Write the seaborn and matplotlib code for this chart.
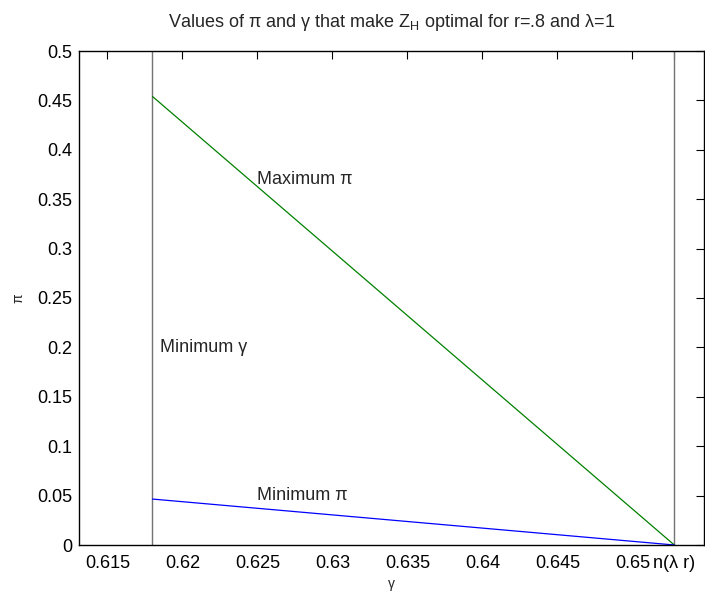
import numpy as np
import pandas as pd
import matplotlib
matplotlib.use("Agg")
import matplotlib.pyplot as plt
import seaborn as sns

# ---- data ----
gamma_min = 0.6180      # Minimum gamma (left vertical line)
gamma_n = 0.6528        # n(lambda r) (right vertical line)
max_pi_gamma = [0.6180, 0.6528]
max_pi_vals = [0.454, 0.0]
min_pi_gamma = [0.6180, 0.6528]
min_pi_vals = [0.0465, 0.0]

x_ticks = [0.615, 0.62, 0.625, 0.63, 0.635, 0.64, 0.645, 0.65]
x_tick_labels = ["0.615", "0.62", "0.625", "0.63", "0.635", "0.64", "0.645", "0.65"]
y_ticks = [0, 0.05, 0.1, 0.15, 0.2, 0.25, 0.3, 0.35, 0.4, 0.45, 0.5]
y_tick_labels = ["0", "0.05", "0.1", "0.15", "0.2", "0.25", "0.3", "0.35", "0.4", "0.45", "0.5"]

sns.set_theme(style="white")
plt.rcParams["font.family"] = ["Liberation Sans", "DejaVu Sans"]
plt.rcParams["mathtext.fontset"] = "custom"
plt.rcParams["mathtext.rm"] = "Liberation Sans"
plt.rcParams["mathtext.it"] = "Liberation Sans:italic"

fig = plt.figure(figsize=(7.05, 5.91), dpi=100)
ax = fig.add_axes([79 / 705, 1 - 545 / 591, (705 - 79) / 705 - 0.001, (545 - 51) / 591])

df_max = pd.DataFrame({"gamma": max_pi_gamma, "pi": max_pi_vals})
df_min = pd.DataFrame({"gamma": min_pi_gamma, "pi": min_pi_vals})

ax.axvline(gamma_min, color="0.45", lw=1.0, zorder=1)
ax.axvline(gamma_n, color="0.45", lw=1.0, zorder=1)
sns.lineplot(data=df_max, x="gamma", y="pi", color="#008000", lw=0.9, ax=ax, estimator=None, sort=False)
sns.lineplot(data=df_min, x="gamma", y="pi", color="#0000ff", lw=0.9, ax=ax, estimator=None, sort=False)

ax.set_xlim(gamma_min - 0.0049, gamma_n + 0.002)
ax.set_ylim(0, 0.5)

ax.set_xticks(x_ticks + [gamma_n])
ax.set_xticklabels(x_tick_labels + ["n(λ r)"])
ax.set_yticks(y_ticks)
ax.set_yticklabels(y_tick_labels)

ax.tick_params(axis="both", which="both", direction="in", length=6, width=0.8,
               top=True, right=True, labelsize=13, colors="black")
ax.tick_params(axis="x", pad=7)
ax.tick_params(axis="y", pad=5)
for s in ax.spines.values():
    s.set_visible(True)
    s.set_color("black")
    s.set_linewidth(1.0)

ax.text(0.625, 0.37, "Maximum π", fontsize=13, ha="left", va="center")
ax.text(0.625, 0.05, "Minimum π", fontsize=13, ha="left", va="center")
ax.text(gamma_min + 0.0005, 0.2, "Minimum γ", fontsize=13, ha="left", va="center")

ax.set_xlabel("γ", fontsize=10, labelpad=4)
ax.set_ylabel("π", fontsize=10, labelpad=8)
ax.set_title(r"Values of π and γ that make Z$_{\mathrm{H}}$ optimal for r=.8 and λ=1",
             fontsize=13, pad=17)

fig.savefig("out.png", dpi=100, facecolor="white")
